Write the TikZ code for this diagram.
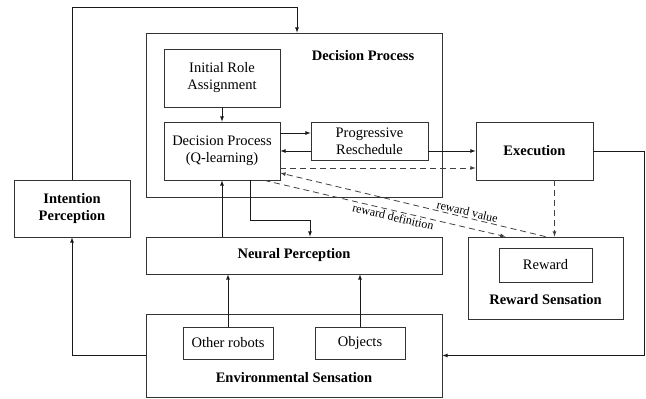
\documentclass[tikz,border=0pt]{standalone}
\usepackage{fontspec}
\setmainfont{Liberation Serif}
\begin{document}
\begin{tikzpicture}[x=1pt,y=-1pt]
	\tikzstyle{blk} = [draw=black!80, line width=0.8pt, shape=rectangle, align=center, inner sep=0pt, font=\fontsize{14.5}{17}\selectfont]
	\tikzstyle{bigblk} = [blk, font=\fontsize{14.5}{17}\selectfont\bfseries]
	\tikzstyle{lbl} = [font=\fontsize{14.5}{17}\selectfont\bfseries]
	\tikzstyle{flow} = [-latex, line width=0.8pt, draw=black!90]
	\tikzstyle{dflow} = [-latex, line width=0.8pt, draw=black!75, dash pattern=on 6pt off 4pt]
	\tikzstyle{small} = [font=\fontsize{12}{14}\selectfont, inner sep=1.5pt]

	\useasboundingbox (0,0) rectangle (646,399);

	% NODES %
	\node[blk, minimum width=296, minimum height=164] (decision) at (294,115) {};
	\node[lbl] (decisionlbl) at (363,56) {Decision Process};
	\node[blk, minimum width=116, minimum height=58] (ira) at (222,78) {Initial Role\\Assignment};
	\node[blk, minimum width=116, minimum height=58] (dpq) at (222,151) {Decision Process\\(Q-learning)};
	\node[blk, minimum width=117, minimum height=38] (resched) at (369.5,141) {Progressive\\Reschedule};
	\node[bigblk, minimum width=117, minimum height=58] (exec) at (534.5,151) {Execution};

	\node[bigblk, minimum width=116, minimum height=57] (intent) at (72,208.5) {Intention\\Perception};
	\node[bigblk, minimum width=296, minimum height=37] (neural) at (294,255.5) {Neural Perception};

	\node[blk, minimum width=155, minimum height=82] (rewsens) at (545.5,278) {};
	\node[blk, minimum width=93, minimum height=34] (reward) at (545.5,265) {Reward};
	\node[lbl] (rewsenslbl) at (545.5,300) {Reward Sensation};

	\node[blk, minimum width=296, minimum height=83] (env) at (294,355.5) {};
	\node[blk, minimum width=90, minimum height=32] (robots) at (228,343) {Other robots};
	\node[blk, minimum width=90, minimum height=32] (objects) at (360,343) {Objects};
	\node[lbl] (envlbl) at (294,378) {Environmental Sensation};

	% EDGES %
	%inside decision
	\draw[flow] (ira.south) -- (dpq.north);
	\draw[flow] (dpq.east |- 0,133) -- (resched.west |- 0,133);
	\draw[flow] (resched.west |- 0,151) -- (dpq.east |- 0,151);
	\draw[flow] (resched.east |- 0,151) -- (exec.west |- 0,151);
	\draw[dflow] (dpq.east |- 0,168) -- (exec.west |- 0,168);
	%reward
	\draw[dflow] ([xshift=20]exec.south) -- ([xshift=20]exec.south |- rewsens.north);
	\draw[dflow] ([xshift=-16]dpq.south east) -- node[small, pos=0.54, sloped, below] {reward definition} ([xshift=-40]rewsens.north);
	\draw[dflow] (rewsens.north) -- node[small, pos=0.30, sloped, above] {reward value} (dpq.east |- 0,173);
	%perception
	\draw[flow] (neural.north -| dpq.south) -- (dpq.south);
	\draw[flow] ([xshift=28]dpq.south) -- ++(0,40) -| ([xshift=16]neural.north);
	\draw[flow] (robots.north) -- (robots.north |- neural.south);
	\draw[flow] (objects.north) -- (objects.north |- neural.south);
	%outer loops
	\draw[flow] (env.west) -| (intent.south);
	\draw[flow] (intent.north) -- ++(0,-172) -| ([xshift=3]decision.north);
	\draw[flow] (exec.east) -- ++(51,0) |- (env.east);
\end{tikzpicture}
\end{document}
